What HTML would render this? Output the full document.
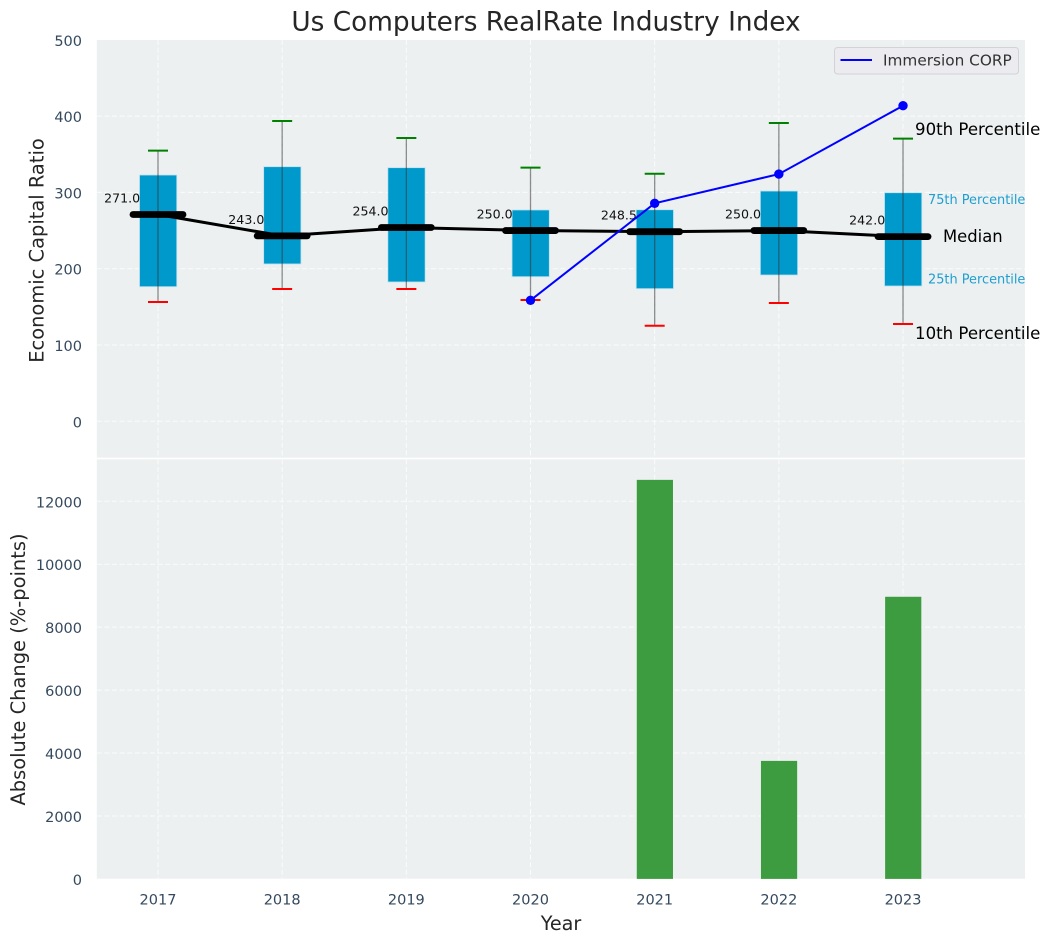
<!DOCTYPE html>
<html>
<head>
<meta charset="utf-8">
<title>Us Computers RealRate Industry Index</title>
<style>
html,body{margin:0;padding:0;background:#fff;width:1050px;height:942px;overflow:hidden}
svg{display:block}
text{font-family:"DejaVu Sans","Liberation Sans",sans-serif}
</style>
</head>
<body>
<svg id="chart" xmlns="http://www.w3.org/2000/svg" width="1050" height="942" viewBox="0 0 1050 942"></svg>
<script>
const years = [2017, 2018, 2019, 2020, 2021, 2022, 2023];
const p90 = [354.7, 393.6, 371.3, 332.4, 324.5, 391, 370.4];
const q3 = [322.8, 333.7, 332.4, 277, 277.3, 301.8, 299.6];
const medians = [271, 243, 254, 250, 248.5, 250, 242];
const q1 = [176.4, 206.2, 182.6, 189.5, 173.8, 191.7, 177.3];
const p10 = [156.4, 173.4, 173.4, 159, 125.3, 155, 127.5];
const companyYears = [2020, 2021, 2022, 2023];
const companyValues = [158.6, 285.7, 324, 413.6];
const changeYears = [2021, 2022, 2023];
const changeValues = [12680, 3750, 8965];
const topTicks = [0, 100, 200, 300, 400, 500];
const bottomTicks = [0, 2000, 4000, 6000, 8000, 10000, 12000];

const NS = 'http://www.w3.org/2000/svg';
const svg = document.getElementById('chart');
const L = 96.8, R = 1025;
const T1 = 40, B1 = 457.6, T2 = 459.4, B2 = 878.7;
const x = v => 158 + (v - 2017) * 124.17;
const y1 = v => 421.3 - v * 0.763;
const y2 = v => 878.9 - v * 0.03147;
const halfBox = 18.9;

function mk(tag, attrs, txt) {
  const el = document.createElementNS(NS, tag);
  for (const k in attrs) el.setAttribute(k, attrs[k]);
  if (txt !== undefined) el.textContent = txt;
  svg.appendChild(el);
  return el;
}
function named(el, name) {
  
  
  return el;
}
const gridStyle = {stroke:'#ffffff','stroke-width':1,'stroke-dasharray':'5 2.6','stroke-opacity':0.8};
const tickColor = '#34495e';

named(mk('rect', {x:L, y:T1, width:R-L, height:B1-T1, fill:'#ecf0f1'}), 'top-panel-background');
named(mk('rect', {x:L, y:T2, width:R-L, height:B2-T2, fill:'#ecf0f1'}), 'bottom-panel-background');

topTicks.forEach(t => {
  if (t < 500) named(mk('line', Object.assign({x1:L, x2:R, y1:y1(t), y2:y1(t)}, gridStyle)), 'top-grid-line-y-' + t);
  named(mk('text', {x:82, y:y1(t)+6, 'text-anchor':'end', 'font-size':14.5, fill:tickColor}, String(t)), 'top-y-tick-' + t);
});
bottomTicks.forEach(t => {
  if (t > 0) named(mk('line', Object.assign({x1:L, x2:R, y1:y2(t), y2:y2(t)}, gridStyle)), 'bottom-grid-line-y-' + t);
  named(mk('text', {x:82, y:y2(t)+6, 'text-anchor':'end', 'font-size':14.5, fill:tickColor}, String(t)), 'bottom-y-tick-' + t);
});
years.forEach(yr => {
  named(mk('line', Object.assign({x1:x(yr), x2:x(yr), y1:T1, y2:B1}, gridStyle)), 'top-grid-line-x-' + yr);
  named(mk('line', Object.assign({x1:x(yr), x2:x(yr), y1:T2, y2:B2}, gridStyle)), 'bottom-grid-line-x-' + yr);
  named(mk('text', {x:x(yr), y:904.5, 'text-anchor':'middle', 'font-size':14.5, fill:tickColor}, String(yr)), 'x-tick-' + yr);
});

/* boxes */
years.forEach((yr, i) => {
  const cx = x(yr);
  named(mk('rect', {x:cx-halfBox+0.4, y:y1(q3[i]), width:halfBox*2-0.5, height:y1(q1[i])-y1(q3[i]), fill:'#0099cc', stroke:'#bfe3ef', 'stroke-width':0.8}), 'box-' + yr);
  named(mk('line', {x1:cx, x2:cx, y1:y1(p10[i]), y2:y1(p90[i]), stroke:'#333333', 'stroke-opacity':0.55, 'stroke-width':1.3}), 'whisker-' + yr);
  named(mk('line', {x1:cx-10, x2:cx+10, y1:y1(p90[i]), y2:y1(p90[i]), stroke:'#008000', 'stroke-width':2}), 'p90-cap-' + yr);
  named(mk('line', {x1:cx-10, x2:cx+10, y1:y1(p10[i]), y2:y1(p10[i]), stroke:'#ff0000', 'stroke-width':2}), 'p10-cap-' + yr);
});

/* median connector */
named(mk('polyline', {
  points: years.map((yr, i) => x(yr) + ',' + y1(medians[i])).join(' '),
  fill:'none', stroke:'#000000', 'stroke-width':3
}), 'median-trend-line');

years.forEach((yr, i) => {
  const cx = x(yr), my = y1(medians[i]);
  named(mk('line', {x1:cx-25, x2:cx+25, y1:my, y2:my, stroke:'#000000', 'stroke-width':6.8, 'stroke-linecap':'round'}), 'median-bar-' + yr);
  named(mk('text', {x:cx-17.8, y:my-12, 'text-anchor':'end', 'font-size':12.6, fill:'#111111'}, medians[i].toFixed(1)), 'median-label-' + yr);
});

/* company series */
named(mk('polyline', {
  points: companyYears.map((yr, i) => x(yr) + ',' + y1(companyValues[i])).join(' '),
  fill:'none', stroke:'#0000ff', 'stroke-width':2
}), 'immersion-corp-line');
companyYears.forEach((yr, i) => {
  named(mk('circle', {cx:x(yr), cy:y1(companyValues[i]), r:4.7, fill:'#0000ff'}), 'immersion-corp-point-' + yr);
});

/* percentile annotations, anchored to the last year */
const last = years.length - 1;
const lastX = x(years[last]);
named(mk('text', {x:lastX+12, y:y1(p90[last])-3.5, 'font-size':16.6, fill:'#000000'}, '90th Percentile'), 'annotation-90th-percentile');
named(mk('text', {x:lastX+12, y:y1(p10[last])+15, 'font-size':16.6, fill:'#000000'}, '10th Percentile'), 'annotation-10th-percentile');
named(mk('text', {x:lastX+40, y:y1(medians[last])+5.5, 'font-size':16.4, fill:'#000000'}, 'Median'), 'annotation-median');
named(mk('text', {x:lastX+25, y:y1(q3[last])+11.5, 'font-size':12.9, fill:'#1f9fd0'}, '75th Percentile'), 'annotation-75th-percentile');
named(mk('text', {x:lastX+25, y:y1(q1[last])-2.5, 'font-size':12.9, fill:'#1f9fd0'}, '25th Percentile'), 'annotation-25th-percentile');

/* bars */
changeYears.forEach((yr, i) => {
  named(mk('rect', {x:x(yr)-17.9, y:y2(changeValues[i]), width:36.2, height:y2(0)-y2(changeValues[i]), fill:'#3d9c3f'}), 'change-bar-' + yr);
});

/* legend */
named(mk('rect', {x:834.5, y:47.5, width:184, height:26.5, rx:3, fill:'#ebebf0', stroke:'#d2d3d6', 'stroke-width':1}), 'legend-box');
named(mk('line', {x1:840.5, x2:872, y1:60, y2:60, stroke:'#0000ff', 'stroke-width':2}), 'legend-line-immersion-corp');
named(mk('text', {x:883, y:65.5, 'font-size':15.3, fill:'#333333'}, 'Immersion CORP'), 'legend-label-immersion-corp');

/* titles */
named(mk('text', {x:546, y:30.5, 'text-anchor':'middle', 'font-size':26.35, fill:'#262626'}, 'Us Computers RealRate Industry Index'), 'chart-title');
named(mk('text', {x:561, y:930, 'text-anchor':'middle', 'font-size':19.2, fill:'#262626'}, 'Year'), 'x-axis-title');
named(mk('text', {transform:'translate(43.5,250.5) rotate(-90)', 'text-anchor':'middle', 'font-size':19.45, fill:'#262626'}, 'Economic Capital Ratio'), 'top-y-axis-title');
named(mk('text', {transform:'translate(25,669.5) rotate(-90)', 'text-anchor':'middle', 'font-size':19.45, fill:'#262626'}, 'Absolute Change (%-points)'), 'bottom-y-axis-title');
</script>
</body>
</html>
